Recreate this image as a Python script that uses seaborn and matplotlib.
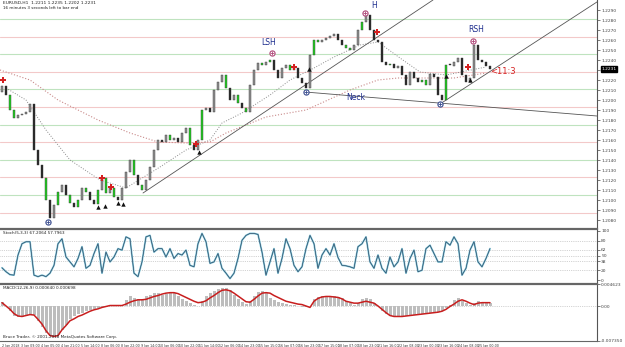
import matplotlib
matplotlib.use("Agg")
import matplotlib.pyplot as plt
import numpy as np
import seaborn as sns

# --- price data (one bar per ~3 hours on the H1 chart) ---
first_open = 1.2208
closes = [1.2214, 1.2205, 1.2190, 1.2182, 1.2185, 1.2186, 1.2188, 1.2196, 1.2150, 1.2135,
          1.2122, 1.2100, 1.2082, 1.2095, 1.2108, 1.2115, 1.2105, 1.2097, 1.2093, 1.2100,
          1.2112, 1.2108, 1.2100, 1.2096, 1.2110, 1.2122, 1.2107, 1.2112, 1.2103, 1.2100,
          1.2112, 1.2128, 1.2140, 1.2125, 1.2115, 1.2110, 1.2120, 1.2133, 1.2150, 1.2160,
          1.2158, 1.2165, 1.2160, 1.2162, 1.2158, 1.2167, 1.2172, 1.2155, 1.2150, 1.2160,
          1.2190, 1.2192, 1.2188, 1.2210, 1.2218, 1.2225, 1.2212, 1.2200, 1.2205, 1.2197,
          1.2192, 1.2188, 1.2215, 1.2230, 1.2237, 1.2235, 1.2238, 1.2240, 1.2230, 1.2222,
          1.2232, 1.2235, 1.2230, 1.2232, 1.2222, 1.2217, 1.2212, 1.2245, 1.2260, 1.2258,
          1.2260, 1.2262, 1.2264, 1.2266, 1.2260, 1.2255, 1.2252, 1.2250, 1.2255, 1.2270,
          1.2278, 1.2285, 1.2270, 1.2260, 1.2258, 1.2238, 1.2235, 1.2236, 1.2232, 1.2234,
          1.2225, 1.2215, 1.2228, 1.2222, 1.2218, 1.2220, 1.2215, 1.2226, 1.2223, 1.2205,
          1.2200, 1.2235, 1.2234, 1.2238, 1.2242, 1.2225, 1.2218, 1.2222, 1.2255, 1.2240,
          1.2238, 1.2234, 1.2231]
green_bars = [2, 3, 11, 14, 17, 19, 21, 24, 26, 28, 33, 35, 42, 47, 50, 56, 59, 61, 65,
              67, 72, 78, 79, 86, 87, 90, 97, 105, 106, 111]

ma_fast_idx = [1, 6, 11, 17, 24.5, 31, 39.5, 46, 52, 55, 60, 67, 72, 78, 83, 89.5, 94, 99.5, 104.5, 111, 121]
ma_fast = [1.2212, 1.2200, 1.2170, 1.2140, 1.2120, 1.2112, 1.2133, 1.2150, 1.2160, 1.2177, 1.2187,
           1.2205, 1.2220, 1.2232, 1.2243, 1.2255, 1.2258, 1.2242, 1.2228, 1.2225, 1.2233]
ma_slow_idx = [-0.5, 7, 14, 24, 32, 39, 46, 52, 56, 66, 76, 87, 94, 99, 104, 113, 121]
ma_slow = [1.2230, 1.2220, 1.2200, 1.2180, 1.2167, 1.2158, 1.2157, 1.2158, 1.2167, 1.2183,
           1.2190, 1.2210, 1.2220, 1.2222, 1.2222, 1.2222, 1.2227]

levels = [1.2281, 1.2263, 1.2246, 1.2228, 1.2211, 1.2193, 1.2175, 1.2158, 1.2140, 1.2123, 1.2105, 1.2087]
price_ticks = [1.2290, 1.2280, 1.2270, 1.2260, 1.2250, 1.2240, 1.2230, 1.2220, 1.2210, 1.2200,
               1.2190, 1.2180, 1.2170, 1.2160, 1.2150, 1.2140, 1.2130, 1.2120, 1.2110, 1.2100,
               1.2090, 1.2080]

# trend lines (anchor bar, anchor price)
trend_lines = [[(35.25, 1.2107), (107.75, 1.2300)],
               [(75.75, 1.2208), (148.75, 1.2184)],
               [(109.5, 1.2196), (149.5, 1.2300)]]

circles_blue = [(11.5, 1.2078), (76, 1.2208), (109.5, 1.2196)]
circles_pink = [(67.5, 1.2247), (90.75, 1.2287), (117.75, 1.2259)]
red_marks = [(0.25, 1.2220), (25, 1.2122), (27.25, 1.2113), (48.5, 1.2156), (73, 1.2233),
             (93.75, 1.2268), (116.5, 1.2233)]
black_marks = [(24, 1.2093), (25.75, 1.2094), (29, 1.2097), (30.25, 1.2096), (49.25, 1.2148),
               (76.75, 1.2231), (111, 1.2224), (117, 1.2220)]
pattern_labels = [("LSH", 66.75, 1.2253), ("H", 93, 1.2290), ("Neck", 88.5, 1.2198), ("RSH", 118.5, 1.2266)]

# --- stochastic ---
stoch = [25, 17, 11, 10, 51, 74, 78, 78, 10, 7, 10, 7, 14, 30, 74, 84, 47, 37, 27, 44,
         68, 24, 30, 54, 74, 14, 57, 37, 47, 64, 61, 88, 84, 14, 7, 37, 88, 91, 57, 64,
         64, 47, 64, 44, 54, 51, 61, 30, 27, 74, 95, 78, 34, 37, 54, 24, 14, 3, 14, 44,
         81, 91, 95, 95, 93, 57, 10, 37, 64, 14, 44, 84, 64, 30, 17, 27, 64, 91, 74, 24,
         51, 64, 51, 74, 46, 30, 29, 27, 24, 68, 74, 88, 37, 24, 51, 24, 14, 47, 27, 37,
         64, 14, 44, 61, 17, 20, 64, 71, 54, 37, 37, 78, 71, 88, 74, 10, 24, 61, 78, 37,
         27, 44, 64]
stoch_levels = [80, 62, 50, 38, 20]

# --- MACD (units of 1e-4) ---
macd_hist = [9, 1, -10.5, -21, -24, -24, -21, -19, -19, -31, -45, -56, -63, -66, -60, -50, -40, -28, -21, -17,
             -14, -11, -8, -6, -4, -2, 0, 1, 1, 1, 1, 13, 20, 17, 14, 14, 20, 24, 28, 27,
             24, 26, 28, 27, 21, 15, 10, 7, 3, 0, 10, 21, 28, 31, 35, 38, 38, 34, 24, 15,
             8, 4, 10, 21, 29, 31, 27, 17, 13, 8, 6, 5, 3, 2, 0, -2, -3, 0, 14, 18,
             20, 21, 21, 20, 19, 16, 11, 6, 3, 7, 14, 17, 14, 7, 0, -10, -17, -21, -22, -22,
             -22, -20, -20, -18, -17, -16, -15, -15, -14, -13, -10, -4, 3, 13, 17, 10, 6, 3, 7, 10,
             8, 7, 6]
macd_signal = [7, 0, -7, -16, -21, -22, -20, -18, -19, -28, -38, -52, -62, -64, -62, -50, -41, -31, -27, -22,
               -19, -15, -11, -8, -6, -3, -1, 1, 1, 1, 1, 4, 8, 11, 13, 13, 14, 17, 20, 22,
               25, 27, 28, 28, 26, 22, 18, 14, 10, 7, 8, 11, 17, 22, 28, 33, 34, 32, 27, 21,
               15, 9, 8, 14, 21, 27, 28, 27, 22, 18, 14, 10, 8, 6, 4, 3, 0, -3, 10, 16,
               19, 20, 20, 19, 18, 15, 10, 8, 6, 6, 8, 10, 8, 6, 0, -7, -14, -20, -22, -22,
               -22, -21, -20, -19, -18, -17, -16, -15, -14, -13, -11, -7, -1, 4, 10, 13, 10, 6, 3, 6,
               7, 7, 7]

date_labels = ["2 Jan 2018", "3 Jan 09:00", "4 Jan 05:00", "4 Jan 21:00", "5 Jan 14:00",
               "8 Jan 06:00", "8 Jan 22:00", "9 Jan 14:00", "10 Jan 06:00", "10 Jan 22:00",
               "11 Jan 14:00", "12 Jan 06:00", "14 Jan 23:00", "15 Jan 15:00", "16 Jan 07:00",
               "16 Jan 23:00", "17 Jan 15:00", "18 Jan 07:00", "18 Jan 23:00", "21 Jan 16:00",
               "22 Jan 08:00", "23 Jan 00:00", "23 Jan 16:00", "24 Jan 08:00", "25 Jan 00:00"]

sns.set_style("white")
plt.rcParams['font.family'] = ['DejaVu Sans']

W, H = 625, 347
fig = plt.figure(figsize=(W / 100, H / 100), dpi=100)


def box(x0, y0, x1, y1):
    return [x0 / W, 1 - y1 / H, (x1 - x0) / W, (y1 - y0) / H]


ax = fig.add_axes(box(0, 0, 597, 228))
ax2 = fig.add_axes(box(0, 229, 597, 283))
ax3 = fig.add_axes(box(0, 284, 597, 341))
xlim = (-0.5, 148.75)

for a in (ax, ax2, ax3):
    a.set_xlim(*xlim)
    a.yaxis.tick_right()
    a.tick_params(axis="y", labelsize=3.2, length=2, width=0.5, pad=1, colors="#444444")
    for s in ("left", "top", "bottom"):
        a.spines[s].set_visible(False)
    a.spines["right"].set_color("#555555")
    a.spines["right"].set_linewidth(0.8)
    a.set_xticks([])

# ---- main panel ----
ax.set_ylim(1.2072, 1.2300)
for k, lv in enumerate(levels):
    ax.axhline(lv, color="#bfe3bf" if k % 2 == 0 else "#f3c9c9", lw=0.8, zorder=0)

idx = np.arange(len(closes))
opens = np.array([first_open] + closes[:-1])
cl = np.array(closes)
body = np.where(np.abs(cl - opens) < 0.0001, 0.0001, cl - opens)
colors = []
for i in idx:
    if i in green_bars:
        colors.append("#22d022")
    elif cl[i] >= opens[i]:
        colors.append("#909090")
    else:
        colors.append("#262626")
ax.bar(idx, body, bottom=opens, width=0.5, color=colors, edgecolor="#3a3a3a", linewidth=0.3, zorder=3)

sns.lineplot(x=ma_fast_idx, y=ma_fast, ax=ax, color="#8c8c8c", lw=0.7, linestyle=":", zorder=2)
sns.lineplot(x=ma_slow_idx, y=ma_slow, ax=ax, color="#c98a8a", lw=0.8, linestyle=":", zorder=2)

for (x0, y0), (x1, y1) in trend_lines:
    ax.plot([x0, x1], [y0, y1], color="#555555", lw=0.6, zorder=2)

bx, by = zip(*circles_blue)
ax.scatter(bx, by, s=14, facecolors="white", edgecolors="#3a4d8f", linewidths=0.8, zorder=5)
ax.scatter(bx, by, s=10, marker="+", color="#3a4d8f", linewidths=0.6, zorder=6)
px, py = zip(*circles_pink)
ax.scatter(px, py, s=14, facecolors="white", edgecolors="#b04a7a", linewidths=0.8, zorder=5)
ax.scatter(px, py, s=10, marker="+", color="#b04a7a", linewidths=0.6, zorder=6)
rx, ry = zip(*red_marks)
ax.scatter(rx, ry, s=14, marker="P", color="#d42020", linewidths=0, zorder=6)
kx, ky = zip(*black_marks)
ax.scatter(kx, ky, s=10, marker="^", color="#111111", linewidths=0, zorder=6)

for txt, x, y in pattern_labels:
    ax.text(x, y, txt, fontsize=5.5, color="#1f2f8f", ha="center", va="bottom", zorder=7)
ax.text(125.25, 1.2229, "<11:3", fontsize=6, color="#d42020", ha="center", va="center")

ax.set_yticks(price_ticks)
ax.set_yticklabels([f"{t:.4f}" for t in price_ticks])
ax.annotate(f"{closes[-1]:.4f}", xy=(1.0, closes[-1]), xycoords=("axes fraction", "data"),
            xytext=(3, 0), textcoords="offset points", fontsize=3.2, color="white", va="center",
            bbox=dict(boxstyle="square,pad=0.15", fc="black", ec="black"), annotation_clip=False)

ax.text(0.005, 0.995, "EURUSD,H1  1.2211 1.2235 1.2202 1.2231", transform=ax.transAxes,
        fontsize=3.2, va="top", color="#222222")
ax.text(0.005, 0.972, "16 minutes 3 seconds left to bar end", transform=ax.transAxes,
        fontsize=3.0, va="top", color="#222222")

# ---- stochastic panel ----
ax2.set_ylim(-6, 104)
for lv in stoch_levels:
    ax2.axhline(lv, color="#aaaaaa", lw=0.5, linestyle=":", zorder=0)
sns.lineplot(x=idx, y=stoch, ax=ax2, color="#7fc6d9", lw=1.3)
sns.lineplot(x=idx, y=stoch, ax=ax2, color="#2b3f5c", lw=0.45)
ax2.set_yticks([100, 80, 62, 50, 38, 20, 0])
ax2.set_yticklabels(["100", "80", "62", "50", "38", "20", "0"])
ax2.text(0.005, 0.96, "Stoch(5,3,3) 67.2064 57.7963", transform=ax2.transAxes,
         fontsize=3.0, va="top", color="#222222")
ax2.spines["top"].set_visible(True)
ax2.spines["top"].set_color("#666666")
ax2.spines["top"].set_linewidth(1.6)

# ---- MACD panel ----
ax3.set_ylim(-73.5, 46.2)
ax3.axhline(0, color="#aaaaaa", lw=0.5, linestyle=":", zorder=0)
ax3.bar(idx, macd_hist, width=0.75, color="#bdbdbd", linewidth=0, zorder=1)
sns.lineplot(x=idx, y=macd_signal, ax=ax3, color="#c81e1e", lw=1.1, zorder=3)
ax3.set_yticks([46.2, 0, -73.5])
ax3.set_yticklabels(["0.004623", "0.00", "-0.007350"])
ax3.text(0.005, 0.96, "MACD(12,26,9) 0.000640 0.000698", transform=ax3.transAxes,
         fontsize=3.0, va="top", color="#222222")
ax3.text(0.005, 0.03, "Bruce Trader, \u00a9 2001-2018 MetaQuotes Software Corp.", transform=ax3.transAxes,
         fontsize=3.0, va="bottom", color="#222222")
for s in ("top", "bottom"):
    ax3.spines[s].set_visible(True)
    ax3.spines[s].set_color("#666666")
ax3.spines["top"].set_linewidth(1.6)
ax3.spines["bottom"].set_linewidth(0.8)

tick_pos = np.linspace(2.2, 121.5, len(date_labels))
ax3.set_xticks(tick_pos)
ax3.set_xticklabels(date_labels)
ax3.tick_params(axis="x", labelsize=2.3, length=1.5, width=0.5, pad=0.5, colors="#333333")

fig.savefig("out.png", dpi=100, facecolor="white")
